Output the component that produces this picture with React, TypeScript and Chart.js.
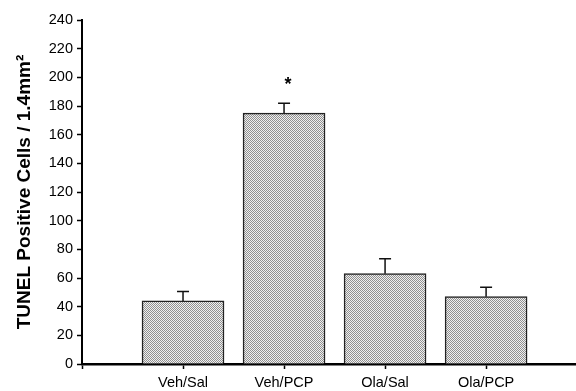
import React, { useEffect, useRef } from "react";
import { Chart, registerables } from "chart.js";

Chart.register(...registerables);

const categories = ["Veh/Sal", "Veh/PCP", "Ola/Sal", "Ola/PCP"];
const values = [44, 175, 63, 47];
const errors = [6.5, 7, 10.5, 6.5];
const significant = [false, true, false, false];
const yTicks = [0, 240, 20];
const yTitle = "TUNEL Positive Cells / 1.4mm\u00B2";

const FONT = "'Liberation Sans', Arial, sans-serif";

export default function App() {
  const ref = useRef<HTMLCanvasElement | null>(null);

  useEffect(() => {
    if (!ref.current) return;
    const tile = document.createElement("canvas");
    tile.width = 2;
    tile.height = 2;
    const tctx = tile.getContext("2d")!;
    tctx.fillStyle = "#f0f0f0";
    tctx.fillRect(0, 0, 2, 2);
    tctx.fillStyle = "#909090";
    tctx.fillRect(0, 0, 1, 1);
    tctx.fillRect(1, 1, 1, 1);
    const ctx0 = ref.current.getContext("2d")!;
    const pattern = ctx0.createPattern(tile, "repeat")!;

    const extras = {
      id: "extras",
      afterDatasetsDraw(chart: any) {
        const ctx = chart.ctx;
        const xs = chart.scales.x;
        const ys = chart.scales.y;
        ctx.save();
        ctx.strokeStyle = "#111";
        ctx.lineWidth = 1.5;
        values.forEach((v, i) => {
          const px = xs.getPixelForValue(i + 1);
          const top = ys.getPixelForValue(v);
          const cap = ys.getPixelForValue(v + errors[i]);
          ctx.beginPath();
          ctx.moveTo(px, top);
          ctx.lineTo(px, cap);
          ctx.moveTo(px - 6, cap);
          ctx.lineTo(px + 6, cap);
          ctx.stroke();
          if (significant[i]) {
            ctx.fillStyle = "#000";
            ctx.font = `bold 18px ${FONT}`;
            ctx.textAlign = "center";
            ctx.textBaseline = "middle";
            ctx.fillText("*", px + 4, cap - 18);
          }
        });
        ctx.restore();
      },
      afterDraw(chart: any) {
        const ctx = chart.ctx;
        const area = chart.chartArea;
        ctx.save();
        ctx.translate(25, (area.top + area.bottom) / 2);
        ctx.rotate(-Math.PI / 2);
        ctx.fillStyle = "#000";
        ctx.font = `bold 19px ${FONT}`;
        ctx.textAlign = "center";
        ctx.textBaseline = "middle";
        ctx.fillText(yTitle, 0, 0);
        ctx.restore();
      },
    };

    const chart = new Chart(ref.current, {
      type: "bar",
      data: {
        datasets: [
          {
            data: values.map((v, i) => ({ x: i + 1, y: v })),
            backgroundColor: pattern as any,
            borderColor: "#222",
            borderWidth: 1.5,
            barThickness: 82,
          },
        ],
      },
      options: {
        animation: false,
        responsive: false,
        maintainAspectRatio: false,
        layout: { padding: { top: 20, right: 0, left: 0, bottom: 0 } },
        plugins: { legend: { display: false }, tooltip: { enabled: false } },
        scales: {
          x: {
            type: "linear",
            offset: false,
            min: 0,
            max: 4.89,
            afterBuildTicks: (scale: any) => {
              scale.ticks = scale.ticks.filter((t: any) => Number.isInteger(t.value));
            },
            afterFit: (scale: any) => {
              scale.height = 27;
            },
            ticks: {
              stepSize: 1,
              autoSkip: false,
              maxRotation: 0,
              color: "#000",
              font: { family: FONT, size: 14.5 },
              padding: 5,
              callback: (v: any) => categories[Number(v) - 1] ?? "",
            },
            grid: { drawOnChartArea: false, offset: false, tickLength: 5, color: "#000", tickWidth: 1.5 },
            border: { color: "#000", width: 2.5 },
          },
          y: {
            min: yTicks[0],
            max: yTicks[1],
            afterFit: (scale: any) => {
              scale.width = 82;
            },
            ticks: {
              stepSize: yTicks[2],
              color: "#000",
              font: { family: FONT, size: 14.5 },
              padding: 4,
            },
            grid: { drawOnChartArea: false, tickLength: 5, color: "#000", tickWidth: 1.5 },
            border: { color: "#000", width: 2 },
          },
        },
      },
      plugins: [extras],
    });
    return () => chart.destroy();
  }, []);

  return (
    <div style={{ position: "fixed", left: 0, top: 0, width: 576, height: 391, background: "#fff" }}>
      <canvas ref={ref} width={576} height={391} style={{ width: 576, height: 391 }} />
    </div>
  );
}
